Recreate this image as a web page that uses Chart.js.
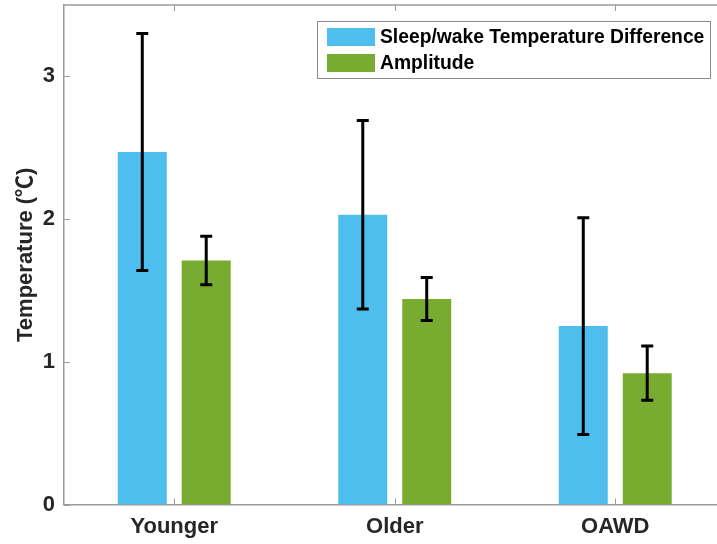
<!DOCTYPE html>
<html>
<head>
<meta charset="utf-8">
<script src="https://cdn.jsdelivr.net/npm/chart.js@4/dist/chart.umd.min.js"></script>
<style>
  html, body { margin: 0; padding: 0; background: #fff; overflow: hidden; }
  #wrap { width: 717px; height: 544px; overflow: hidden; }
</style>
</head>
<body>
<div id="wrap"><canvas id="c" width="740" height="544"></canvas></div>
<script>
// Groups and measured temperatures (mean and half-width of error bar)
const categories = ['Younger', 'Older', 'OAWD'];
const sleepWakeDiff = [2.47, 2.03, 1.25];
const sleepWakeErr = [0.83, 0.66, 0.76];
const amplitude = [1.71, 1.44, 0.92];
const amplitudeErr = [0.17, 0.15, 0.19];
const yTicks = [0, 1, 2, 3];

const FONT = '"Liberation Sans", Arial, Helvetica, "Noto Sans CJK SC", sans-serif';
const AXIS_COLOR = '#9a9a9a';
const TEXT_COLOR = '#262626';

// Error bars drawn at each bar's centre using the y scale
const errorBars = {
  id: 'errorBars',
  afterDatasetsDraw(chart) {
    const ctx = chart.ctx;
    const y = chart.scales.y;
    ctx.save();
    ctx.strokeStyle = '#000';
    ctx.lineWidth = 3;
    ctx.lineCap = 'butt';
    chart.data.datasets.forEach((ds, di) => {
      const meta = chart.getDatasetMeta(di);
      meta.data.forEach((bar, i) => {
        const v = ds.data[i], e = ds.errors[i];
        const yt = y.getPixelForValue(v + e);
        const yb = y.getPixelForValue(v - e);
        const x = bar.x;
        ctx.beginPath();
        ctx.moveTo(x, yt); ctx.lineTo(x, yb);
        ctx.moveTo(x - 6, yt); ctx.lineTo(x + 6, yt);
        ctx.moveTo(x - 6, yb); ctx.lineTo(x + 6, yb);
        ctx.stroke();
      });
    });
    ctx.restore();
  }
};

// Box frame top line and inward tick marks
const frame = {
  id: 'frame',
  afterDraw(chart) {
    const ctx = chart.ctx;
    const a = chart.chartArea;
    const x = chart.scales.x, y = chart.scales.y;
    ctx.save();
    ctx.strokeStyle = AXIS_COLOR;
    ctx.lineWidth = 1.5;
    ctx.beginPath();
    ctx.moveTo(a.left, a.top); ctx.lineTo(a.right + 2, a.top);
    ctx.stroke();
    ctx.lineWidth = 1;
    ctx.beginPath();
    yTicks.forEach(v => {
      const py = Math.round(y.getPixelForValue(v)) + 0.5;
      ctx.moveTo(a.left, py); ctx.lineTo(a.left + 6, py);
    });
    categories.forEach((c, i) => {
      const px = Math.round(x.getPixelForValue(i)) + 0.5;
      ctx.moveTo(px, a.bottom); ctx.lineTo(px, a.bottom - 6);
      ctx.moveTo(px, a.top); ctx.lineTo(px, a.top + 6);
    });
    ctx.stroke();
    ctx.restore();
  }
};

// Boxed legend inside the plot, top right
const boxLegend = {
  id: 'boxLegend',
  afterDraw(chart) {
    const ctx = chart.ctx;
    const bx = 317.5, by = 21.5, bw = 393, bh = 57;
    ctx.save();
    ctx.fillStyle = '#fff';
    ctx.fillRect(bx, by, bw, bh);
    ctx.strokeStyle = '#8a8a8a';
    ctx.lineWidth = 1;
    ctx.strokeRect(bx, by, bw, bh);
    ctx.font = 'bold 19.3px ' + FONT;
    ctx.textBaseline = 'middle';
    ctx.textAlign = 'left';
    chart.data.datasets.forEach((ds, i) => {
      const rowY = 37 + i * 26;
      ctx.fillStyle = ds.backgroundColor;
      ctx.fillRect(327, rowY - 9, 48, 18);
      ctx.fillStyle = '#000';
      ctx.fillText(ds.label, 380, rowY + 1);
    });
    ctx.restore();
  }
};

new Chart(document.getElementById('c'), {
  type: 'bar',
  data: {
    labels: categories,
    datasets: [
      {
        label: 'Sleep/wake Temperature Difference',
        data: sleepWakeDiff,
        errors: sleepWakeErr,
        backgroundColor: '#4DBEEE'
      },
      {
        label: 'Amplitude',
        data: amplitude,
        errors: amplitudeErr,
        backgroundColor: '#77AC30'
      }
    ]
  },
  options: {
    responsive: false,
    animation: false,
    events: [],
    categoryPercentage: 0.58,
    barPercentage: 0.766,
    layout: { padding: { top: 5, right: 14.5, left: 0, bottom: 0 } },
    plugins: {
      legend: { display: false },
      tooltip: { enabled: false }
    },
    scales: {
      x: {
        afterFit: s => { s.height = 39.5; s.paddingLeft = 0; s.paddingRight = 0; },
        grid: { display: false, drawTicks: false },
        border: { display: true, color: AXIS_COLOR, width: 1.5 },
        ticks: {
          padding: 9,
          color: TEXT_COLOR,
          font: { family: FONT, size: 22, weight: 'bold' }
        }
      },
      y: {
        min: 0,
        max: 3.5,
        afterFit: s => { s.width = 64; s.paddingTop = 0; s.paddingBottom = 0; },
        afterBuildTicks: s => { s.ticks = yTicks.map(v => ({ value: v })); },
        grid: { display: false, drawTicks: false },
        border: { display: true, color: AXIS_COLOR, width: 1.5 },
        ticks: {
          padding: 9,
          color: TEXT_COLOR,
          font: { family: FONT, size: 22, weight: 'bold' }
        },
        title: {
          display: true,
          text: 'Temperature (℃)',
          color: TEXT_COLOR,
          padding: { top: 13, bottom: 0 },
          font: { family: FONT, size: 22, weight: 'bold' }
        }
      }
    }
  },
  plugins: [errorBars, frame, boxLegend]
});
</script>
</body>
</html>
